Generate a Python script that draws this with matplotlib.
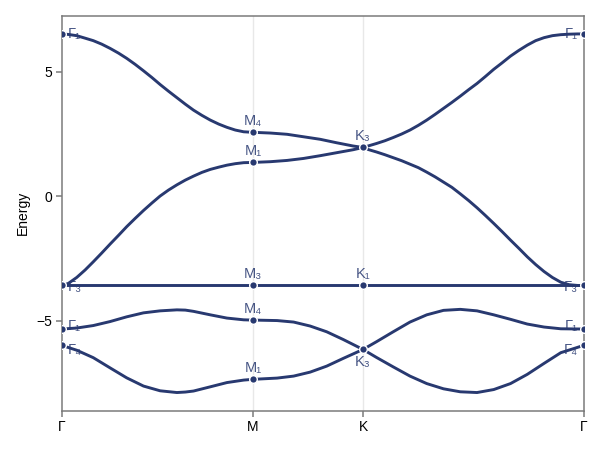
"""
Band structure along the Gamma-M-K-Gamma path
"""

import matplotlib
matplotlib.use('Agg')
import matplotlib.pyplot as plt
import numpy as np

plt.rcParams['font.family'] = ['Liberation Sans', 'DejaVu Sans']

# path nodes (cumulative k distance) and their tick labels
node_k = [0.0, 1.0, 1.577, 2.732]
node_labels = ['Γ', 'M', 'K', 'Γ']

# Gamma -> M, fractions along the segment and band energies
gm_t = [0.0, 0.033, 0.077, 0.121, 0.164, 0.208, 0.252, 0.296, 0.339, 0.383, 0.427, 0.471,
        0.514, 0.558, 0.602, 0.646, 0.689, 0.733, 0.777, 0.821, 0.864, 0.908, 0.952, 1.0]
gm_band1 = [6.52, 6.50, 6.45, 6.35, 6.25, 6.11, 5.94, 5.75, 5.54, 5.30, 5.04, 4.77,
            4.49, 4.22, 3.96, 3.70, 3.46, 3.25, 3.06, 2.90, 2.77, 2.66, 2.59, 2.57]
gm_band2 = [-3.58, -3.50, -3.26, -2.96, -2.63, -2.28, -1.92, -1.57, -1.22, -0.89, -0.57, -0.27,
            0.01, 0.25, 0.46, 0.65, 0.81, 0.96, 1.08, 1.17, 1.25, 1.31, 1.35, 1.36]
gm_t_low = [0.0, 0.077, 0.164, 0.252, 0.339, 0.427, 0.514, 0.602, 0.646, 0.689, 0.777, 0.864, 0.952, 1.0]
gm_band4 = [-5.33, -5.29, -5.19, -5.03, -4.84, -4.68, -4.60, -4.56, -4.57, -4.62, -4.76, -4.89, -4.96, -4.97]
gm_band5 = [-5.99, -6.18, -6.48, -6.89, -7.29, -7.62, -7.81, -7.88, -7.86, -7.82, -7.65, -7.48, -7.38, -7.35]

# M -> K
mk_t_up = [0.0, 0.16, 0.31, 0.46, 0.61, 0.76, 0.91, 1.0]
mk_band1 = [2.57, 2.54, 2.49, 2.39, 2.29, 2.15, 2.02, 1.96]
mk_band2 = [1.36, 1.39, 1.44, 1.52, 1.63, 1.75, 1.87, 1.96]
mk_t_low = [0.0, 0.22, 0.37, 0.52, 0.67, 0.82, 1.0]
mk_band4 = [-4.97, -4.99, -5.05, -5.21, -5.44, -5.75, -6.15]
mk_band5 = [-7.35, -7.30, -7.22, -7.06, -6.82, -6.51, -6.15]

# K -> Gamma
kg_t = [0.0, 0.023, 0.061, 0.099, 0.137, 0.175, 0.213, 0.251, 0.289, 0.327, 0.365, 0.403, 0.441, 0.479,
        0.517, 0.555, 0.593, 0.631, 0.669, 0.707, 0.745, 0.783, 0.821, 0.859, 0.897, 0.935, 0.973, 1.0]
kg_band1 = [1.96, 2.02, 2.12, 2.23, 2.36, 2.50, 2.66, 2.85, 3.06, 3.29, 3.53, 3.77, 4.02, 4.28,
            4.53, 4.81, 5.10, 5.36, 5.63, 5.86, 6.07, 6.25, 6.37, 6.45, 6.49, 6.51, 6.52, 6.52]
kg_band2 = [1.96, 1.88, 1.78, 1.67, 1.55, 1.43, 1.29, 1.15, 0.97, 0.78, 0.57, 0.36, 0.10, -0.17,
            -0.46, -0.77, -1.09, -1.42, -1.76, -2.09, -2.43, -2.74, -3.02, -3.26, -3.45, -3.55, -3.58, -3.58]
kg_t_low = [0.0, 0.061, 0.137, 0.213, 0.289, 0.365, 0.441, 0.517, 0.593, 0.669, 0.745, 0.821, 0.897, 1.0]
kg_band4 = [-6.15, -5.84, -5.44, -5.05, -4.76, -4.58, -4.54, -4.60, -4.76, -4.94, -5.13, -5.25, -5.32, -5.33]
kg_band5 = [-6.15, -6.47, -6.85, -7.22, -7.52, -7.73, -7.85, -7.88, -7.76, -7.52, -7.15, -6.71, -6.28, -5.99]

# flat band
flat_energy = -3.58

# irrep labels at the high-symmetry points: (node index, energy, label)
irreps = [
    (0, 6.52, 'Γ₁'), (0, -3.58, 'Γ₃'), (0, -5.33, 'Γ₁'), (0, -5.99, 'Γ₄'),
    (1, 2.57, 'M₄'), (1, 1.36, 'M₁'), (1, -3.58, 'M₃'), (1, -4.97, 'M₄'), (1, -7.35, 'M₁'),
    (2, 1.96, 'K₃'), (2, -3.58, 'K₁'), (2, -6.15, 'K₃'),
    (3, 6.52, 'Γ₁'), (3, -3.58, 'Γ₃'), (3, -5.33, 'Γ₁'), (3, -5.99, 'Γ₄'),
]

LINE = '#283970'


def seg_k(t, i):
    t = np.asarray(t)
    return node_k[i] + t * (node_k[i + 1] - node_k[i])


fig = plt.figure(figsize=(6, 4.5), dpi=100)
ax = fig.add_axes([0.1033, 0.0873, 0.8692, 0.8777])

bands = [
    (gm_t, gm_band1, mk_t_up, mk_band1, kg_t, kg_band1),
    (gm_t, gm_band2, mk_t_up, mk_band2, kg_t, kg_band2),
    (gm_t_low, gm_band4, mk_t_low, mk_band4, kg_t_low, kg_band4),
    (gm_t_low, gm_band5, mk_t_low, mk_band5, kg_t_low, kg_band5),
]
for t1, e1, t2, e2, t3, e3 in bands:
    k = np.concatenate([seg_k(t1, 0), seg_k(t2, 1), seg_k(t3, 2)])
    e = np.concatenate([e1, e2, e3])
    ax.plot(k, e, color=LINE, lw=2.1, solid_capstyle='round',
            solid_joinstyle='round', zorder=3)

ax.plot(node_k, [flat_energy] * len(node_k), color=LINE, lw=2.1, zorder=3)

# dots and labels
gamma_dy = {6.52: 0, -3.58: -1, -5.33: 2, -5.99: -3}
for idx, en, lab in irreps:
    kx = node_k[idx]
    ax.plot(kx, en, 'o', ms=5.5, color=LINE, mec='white', mew=1.0, zorder=4)
    if idx == 0:
        off, ha, va = (4, gamma_dy[en]), 'left', 'center'
    elif idx == 3:
        off, ha, va = (-4, gamma_dy[en]), 'right', 'center'
    elif idx == 2 and en < -5:
        off, ha, va = (0, -4), 'center', 'top'
    else:
        off, ha, va = (0, 3), 'center', 'bottom'
    ax.annotate(lab, (kx, en), xytext=off, textcoords='offset points',
                ha=ha, va=va, fontsize=10.5, color=LINE, alpha=0.85, zorder=5)

ax.set_xlim(node_k[0], node_k[-1])
ax.set_ylim(-8.61, 7.25)
ax.set_xticks(node_k)
ax.set_xticklabels(node_labels)
ax.set_yticks([-5, 0, 5])
ax.set_yticklabels(['−5', '0', '5'])
ax.set_ylabel('Energy', fontsize=10)
ax.yaxis.set_label_coords(-0.062, 0.5)

for kx in node_k[1:3]:
    ax.axvline(kx, color='#e8e8e8', lw=1.0, zorder=1)

for s in ax.spines.values():
    s.set_color('#7a7a7a')
    s.set_linewidth(1.1)
ax.tick_params(direction='out', length=4, width=1.1, color='#7a7a7a',
               labelsize=10, pad=3)

plt.savefig('out.png', dpi=100)
plt.close()
